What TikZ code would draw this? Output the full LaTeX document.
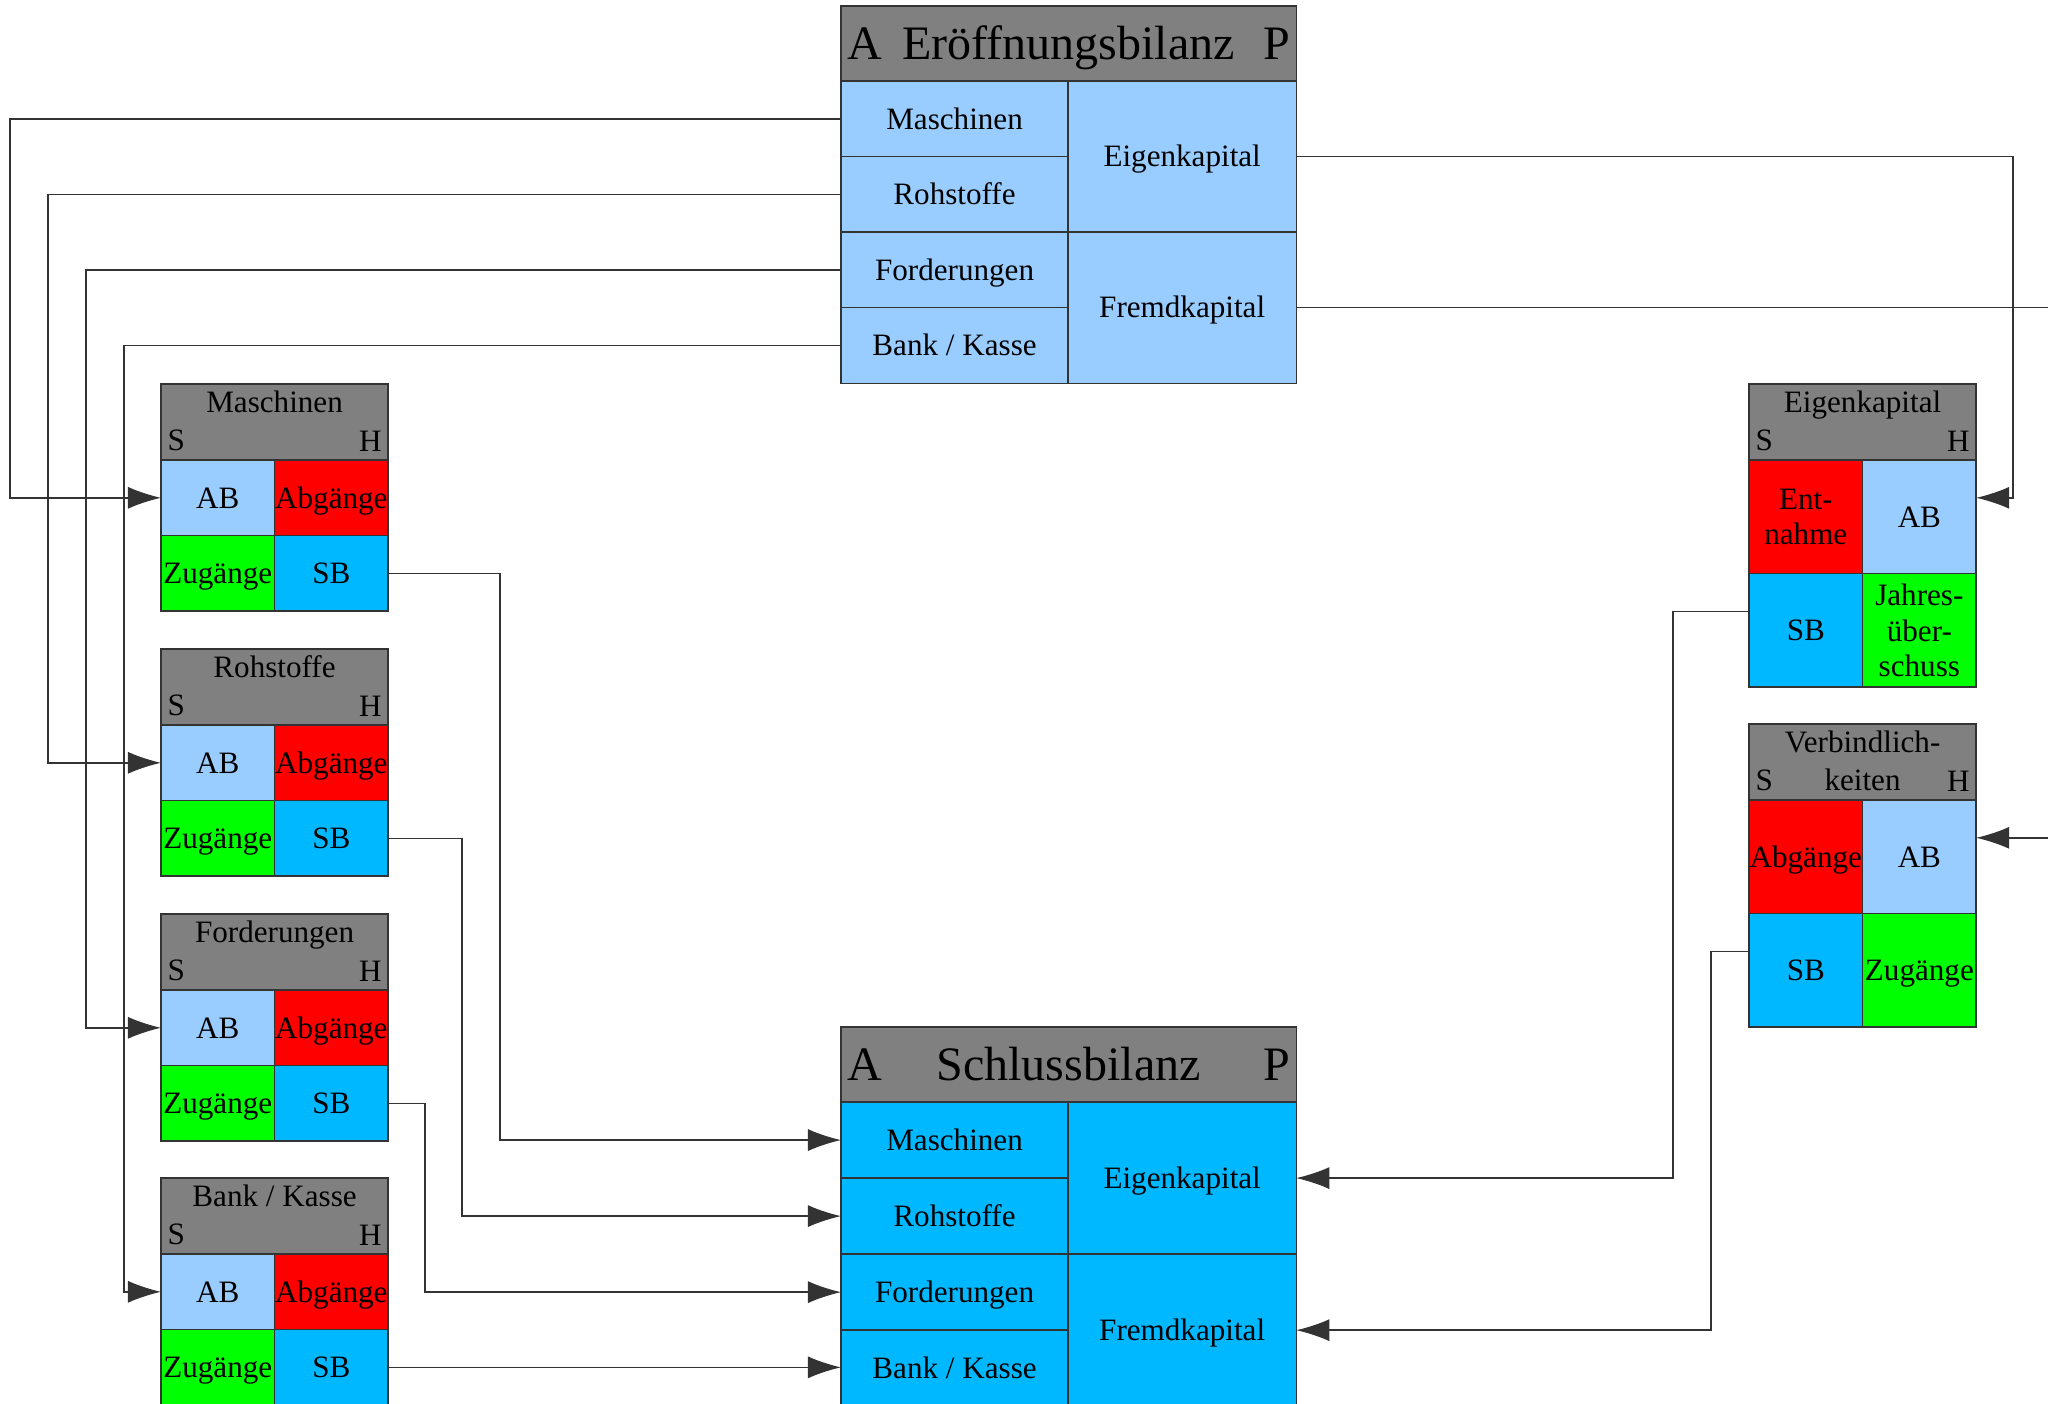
\documentclass[tikz,border=0pt]{standalone}
\usepackage{fontspec}
\setmainfont{Liberation Serif}
\usepackage{tikz}
\usetikzlibrary{positioning,arrows.meta}

\definecolor{headgray}{HTML}{808080}
\definecolor{abblue}{HTML}{99CCFF}
\definecolor{sbblue}{HTML}{00B8FF}
\definecolor{abgred}{HTML}{FF0000}
\definecolor{zuggreen}{HTML}{00FF00}
\newcommand\ebfont{\fontsize{13.66pt}{16pt}\selectfont}
\newcommand\slfont{\fontsize{13.66pt}{16pt}\selectfont}

\begin{document}
\begin{tikzpicture}[
		x=0.01cm, y=-0.01cm,
		>={Latex[length=0.33cm,width=0.22cm]},
		every node/.style={font=\fontsize{8.85pt}{10.1pt}\selectfont, inner sep=0pt, outer sep=0pt, text=black},
		kbox/.style={draw=black!80, line width=0.4pt, align=center},
		cellbase/.style={kbox, minimum width=1.135cm, minimum height=0.755cm},
		cell/.style={cellbase, text height=0.205cm, text depth=0cm},
		tall/.style={minimum height=1.135cm},
		thead/.style={kbox, fill=headgray, minimum width=2.27cm, minimum height=0.76cm,
			label={[tname]north:#1},
			label={[tside, anchor=south west]south west:S},
			label={[tside, anchor=south east]south east:H}},
		tname/.style={anchor=north, align=center, inner ysep=0.07cm},
		tside/.style={inner xsep=0.065cm, inner ysep=0.09cm},
		bhead/.style={kbox, fill=headgray, minimum width=4.55cm, minimum height=0.75cm, text depth=0cm},
		btag/.style={inner xsep=0.065cm, text depth=0cm},
		bcell/.style={cell, minimum width=2.27cm},
		bbig/.style={cell, minimum width=2.28cm, minimum height=1.51cm},
		ab/.style={fill=abblue}, abg/.style={fill=abgred},
		zug/.style={fill=zuggreen}, sb/.style={fill=sbblue},
		conn/.style={draw=black!80, line width=0.4pt}
	]
	\path[use as bounding box, fill=white] (0,0) rectangle (2048,1404);

	% Eroeffnungsbilanz
	\node[bhead, anchor=north west, font=\ebfont, text height=0.32cm,
		label={[btag, font=\ebfont, text height=0.32cm, anchor=west]west:A},
		label={[btag, font=\ebfont, text height=0.32cm, anchor=east]east:P}] (eb) at (841,6) {Eröffnungsbilanz};
	\node[bcell, ab, below right=0pt of eb.south west] (eb-ma) {Maschinen};
	\node[bcell, ab, below=0pt of eb-ma] (eb-ro) {Rohstoffe};
	\node[bcell, ab, below=0pt of eb-ro] (eb-fo) {Forderungen};
	\node[bcell, ab, below=0pt of eb-fo] (eb-bk) {Bank / Kasse};
	\node[bbig, ab, below left=0pt of eb.south east] (eb-ek) {Eigenkapital};
	\node[bbig, ab, below=0pt of eb-ek] (eb-fk) {Fremdkapital};

	% Aktivkonten
	\node[thead=Maschinen, anchor=north west] (ma) at (161,384) {};
	\node[cell, ab, below right=0pt of ma.south west] (ma-ab) {AB};
	\node[cell, abg, right=0pt of ma-ab] (ma-abg) {Abgänge};
	\node[cell, zug, below=0pt of ma-ab] (ma-zug) {Zugänge};
	\node[cell, sb, right=0pt of ma-zug] (ma-sb) {SB};

	\node[thead=Rohstoffe, anchor=north west] (ro) at (161,649) {};
	\node[cell, ab, below right=0pt of ro.south west] (ro-ab) {AB};
	\node[cell, abg, right=0pt of ro-ab] (ro-abg) {Abgänge};
	\node[cell, zug, below=0pt of ro-ab] (ro-zug) {Zugänge};
	\node[cell, sb, right=0pt of ro-zug] (ro-sb) {SB};

	\node[thead=Forderungen, anchor=north west] (fo) at (161,914) {};
	\node[cell, ab, below right=0pt of fo.south west] (fo-ab) {AB};
	\node[cell, abg, right=0pt of fo-ab] (fo-abg) {Abgänge};
	\node[cell, zug, below=0pt of fo-ab] (fo-zug) {Zugänge};
	\node[cell, sb, right=0pt of fo-zug] (fo-sb) {SB};

	\node[thead={Bank / Kasse}, anchor=north west] (bk) at (161,1178) {};
	\node[cell, ab, below right=0pt of bk.south west] (bk-ab) {AB};
	\node[cell, abg, right=0pt of bk-ab] (bk-abg) {Abgänge};
	\node[cell, zug, below=0pt of bk-ab] (bk-zug) {Zugänge};
	\node[cell, sb, right=0pt of bk-zug] (bk-sb) {SB};

	% Passivkonten
	\node[thead=Eigenkapital, anchor=north west] (ek) at (1749,384) {};
	\node[cellbase, tall, abg, below right=0pt of ek.south west] (ek-ent) {Ent-\\nahme};
	\node[cell, tall, ab, right=0pt of ek-ent] (ek-ab) {AB};
	\node[cell, tall, sb, below=0pt of ek-ent] (ek-sb) {SB};
	\node[cellbase, tall, zug, right=0pt of ek-sb] (ek-jue) {Jahres-\\über-\\schuss};

	\node[thead={{Verbindlich-\\[0.02cm]keiten}}, anchor=north west] (vb) at (1749,724) {};
	\node[cell, tall, abg, below right=0pt of vb.south west] (vb-abg) {Abgänge};
	\node[cell, tall, ab, right=0pt of vb-abg] (vb-ab) {AB};
	\node[cell, tall, sb, below=0pt of vb-abg] (vb-sb) {SB};
	\node[cell, tall, zug, right=0pt of vb-sb] (vb-zug) {Zugänge};

	% Schlussbilanz
	\node[bhead, anchor=north west, font=\slfont, text height=0.32cm,
		label={[btag, font=\slfont, text height=0.32cm, anchor=west]west:A},
		label={[btag, font=\slfont, text height=0.32cm, anchor=east]east:P}] (sl) at (841,1027) {Schlussbilanz};
	\node[bcell, sb, minimum height=0.76cm, below right=0pt of sl.south west] (sl-ma) {Maschinen};
	\node[bcell, sb, minimum height=0.76cm, below=0pt of sl-ma] (sl-ro) {Rohstoffe};
	\node[bcell, sb, minimum height=0.76cm, below=0pt of sl-ro] (sl-fo) {Forderungen};
	\node[bcell, sb, minimum height=0.76cm, below=0pt of sl-fo] (sl-bk) {Bank / Kasse};
	\node[bbig, sb, minimum height=1.52cm, below left=0pt of sl.south east] (sl-ek) {Eigenkapital};
	\node[bbig, sb, minimum height=1.52cm, below=0pt of sl-ek] (sl-fk) {Fremdkapital};

	% Eroeffnung -> Konten
	\draw[conn, <-] (ma-ab.west) -- ++(-151,0) |- (eb-ma.west);
	\draw[conn, <-] (ro-ab.west) -- ++(-113,0) |- (eb-ro.west);
	\draw[conn, <-] (fo-ab.west) -- ++(-75,0) |- (eb-fo.west);
	\draw[conn, <-] (bk-ab.west) -- ++(-37,0) |- (eb-bk.west);
	\draw[conn, <-] ([yshift=0.19cm]ek-ab.east) -- ++(37,0) |- (eb-ek.east);
	\draw[conn, <-] ([yshift=0.19cm]vb-ab.east) -- ++(110,0) |- (eb-fk.east);

	% Konten -> Schluss
	\draw[conn, ->] (ma-sb.east) -- ++(112,0) |- (sl-ma.west);
	\draw[conn, ->] (ro-sb.east) -- ++(74,0) |- (sl-ro.west);
	\draw[conn, ->] (fo-sb.east) -- ++(37,0) |- (sl-fo.west);
	\draw[conn, ->] (bk-sb.east) -- (bk-sb.east -| sl-bk.west);
	\draw[conn, ->] ([yshift=0.19cm]ek-sb.west) -- ++(-76,0) |- (sl-ek.east);
	\draw[conn, ->] ([yshift=0.19cm]vb-sb.west) -- ++(-38,0) |- (sl-fk.east);
\end{tikzpicture}
\end{document}
